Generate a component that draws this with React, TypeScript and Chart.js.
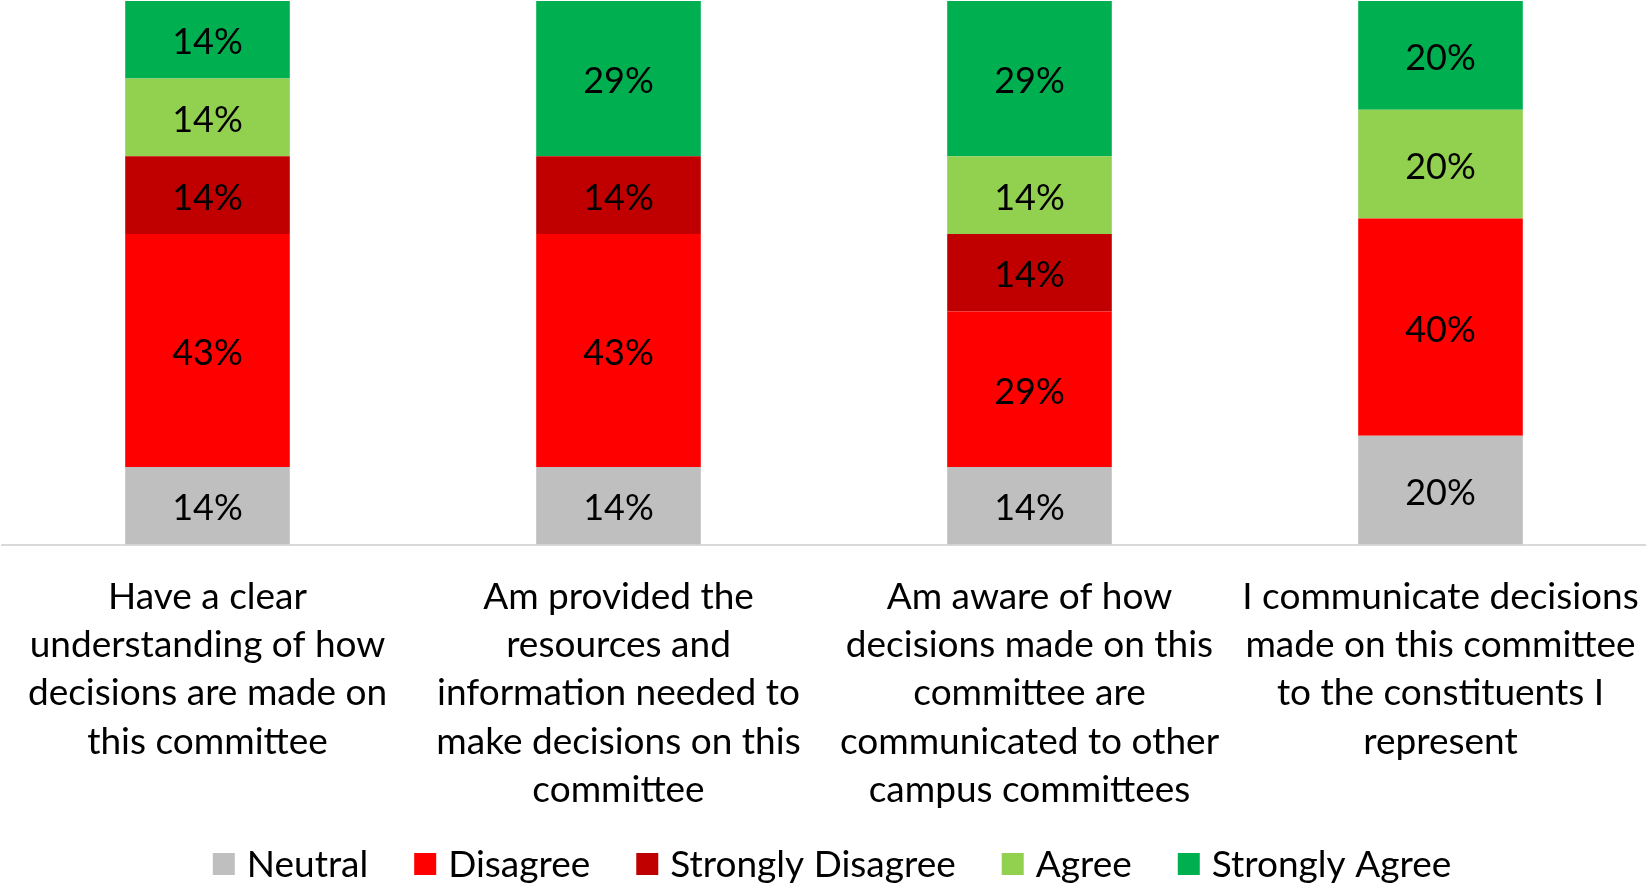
import React, { useEffect, useRef } from "react";
import { Chart, registerables } from "chart.js";

Chart.register(...registerables);

const categories: string[][] = [
  ["Have a clear", "understanding of how", "decisions are made on", "this committee"],
  ["Am provided the", "resources and", "information needed to", "make decisions on this", "committee"],
  ["Am aware of how", "decisions made on this", "committee are", "communicated to other", "campus committees"],
  ["I communicate decisions", "made on this committee", "to the constituents I", "represent"],
];

const neutral = [14.29, 14.29, 14.29, 20];
const disagree = [42.86, 42.86, 28.57, 40];
const stronglyDisagree = [14.29, 14.29, 14.29, 0];
const agree = [14.29, 0, 14.29, 20];
const stronglyAgree = [14.29, 28.57, 28.57, 20];

const seriesNames = ["Neutral", "Disagree", "Strongly Disagree", "Agree", "Strongly Agree"];
const seriesColors = ["#BFBFBF", "#FF0000", "#C00000", "#92D050", "#00B050"];

const FONT = 'Lato, "Open Sans", sans-serif';

const labelPlugin = {
  id: "segmentLabels",
  afterDatasetsDraw(chart: any) {
    const ctx = chart.ctx;
    ctx.save();
    ctx.font = `36px ${FONT}`;
    ctx.fillStyle = "#000000";
    ctx.textAlign = "center";
    ctx.textBaseline = "middle";
    chart.data.datasets.forEach((ds: any, di: number) => {
      const meta = chart.getDatasetMeta(di);
      meta.data.forEach((el: any, i: number) => {
        const v = ds.data[i];
        if (!v) return;
        const { x, y, base } = el.getProps(["x", "y", "base"], true);
        ctx.fillText(`${Math.round(v)}%`, x, (y + base) / 2 + 3);
      });
    });
    ctx.restore();
  },
};

const legendPlugin = {
  id: "bottomLegend",
  afterDraw(chart: any) {
    const ctx = chart.ctx;
    ctx.save();
    ctx.font = `37px ${FONT}`;
    ctx.textBaseline = "middle";
    ctx.textAlign = "left";
    const box = 22;
    const boxGap = 12;
    const itemGap = 46;
    const items = chart.data.datasets.map((ds: any) => ({
      text: ds.label,
      color: ds.backgroundColor,
      w: ctx.measureText(ds.label).width,
    }));
    const total =
      items.reduce((s: number, it: any) => s + box + boxGap + it.w, 0) + itemGap * (items.length - 1);
    let x = chart.width / 2 + 9 - total / 2;
    const cy = 864;
    items.forEach((it: any) => {
      ctx.fillStyle = it.color;
      ctx.fillRect(x, cy - box / 2, box, box);
      ctx.fillStyle = "#000000";
      ctx.fillText(it.text, x + box + boxGap, cy + 1);
      x += box + boxGap + it.w + itemGap;
    });
    ctx.restore();
  },
};

export default function App() {
  const ref = useRef<HTMLCanvasElement>(null);
  useEffect(() => {
    document.body.style.margin = "0";
    const values = [neutral, disagree, stronglyDisagree, agree, stronglyAgree];
    const chart = new Chart(ref.current!, {
      type: "bar",
      data: {
        labels: categories,
        datasets: values.map((d, i) => ({
          label: seriesNames[i],
          data: d,
          backgroundColor: seriesColors[i],
          borderWidth: 0,
          barPercentage: 0.9,
          categoryPercentage: 0.445,
        })),
      },
      options: {
        responsive: false,
        animation: false,
        devicePixelRatio: 1,
        layout: { padding: { top: 1, left: 2, right: 0, bottom: 43 } },
        plugins: {
          legend: { display: false },
          tooltip: { enabled: false },
        },
        scales: {
          x: {
            stacked: true,
            grid: { display: false, drawTicks: false },
            border: { display: true, color: "#D9D9D9", width: 2 },
            ticks: {
              font: { family: FONT, size: 37, lineHeight: 1.305 },
              color: "#000000",
              padding: 28,
              maxRotation: 0,
              autoSkip: false,
            },
            afterFit(scale: any) {
              scale.paddingLeft = 0;
              scale.paddingRight = 0;
            },
          },
          y: {
            stacked: true,
            display: false,
            min: 0,
            max: 100,
          },
        },
      },
      plugins: [labelPlugin, legendPlugin],
    });
    return () => chart.destroy();
  }, []);
  return (
    <div style={{ width: 1646, height: 885 }}>
      <canvas ref={ref} width={1646} height={885} style={{ display: "block" }} />
    </div>
  );
}
